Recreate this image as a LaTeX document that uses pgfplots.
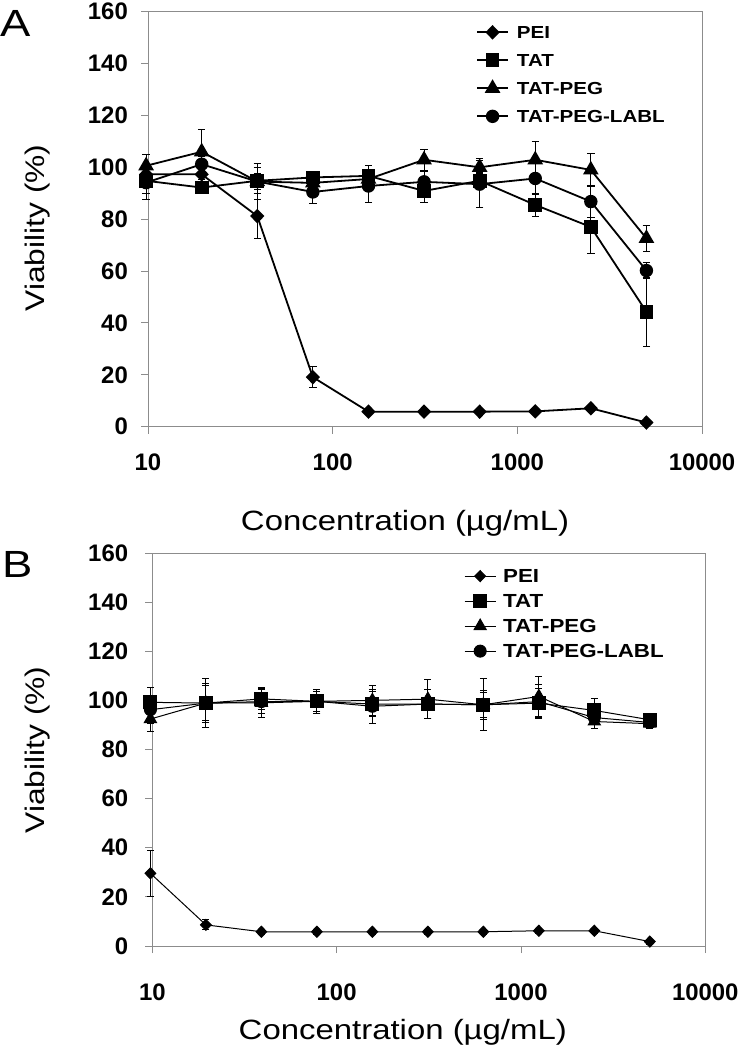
\documentclass[border=0pt]{standalone}
\usepackage{fontspec}
\setmainfont{Liberation Sans}
\usepackage{graphicx}
\usepackage{pgfplots}
\pgfplotsset{compat=1.18}
\usepackage{pgfplotstable}

\pgfplotstableread{
x pei peie tat tate peg pege labl lable
9.766 97.3 3 94.8 5 100.6 4.5 94.1 6.5
19.53 97.3 2 92.2 2 106.0 8.5 101.2 3
39.06 81.2 8.7 94.8 5 94.5 3 94.5 7
78.13 19.1 4 96.1 2 94.0 2 90.5 4.5
156.25 5.8 1 96.7 4 95.5 3 92.8 6.5
312.5 5.8 1 90.9 4.5 102.9 4 94.4 4
625 5.8 1 94.8 3 100.0 3.5 93.5 9
1250 5.9 1 85.5 4.3 102.9 7 95.7 6
2500 7.1 1 77.0 10.3 99.0 6.5 86.8 6
5000 1.6 1 44.3 13.3 72.6 5 60.2 3
}\dataA

\pgfplotstableread{
x pei peie tat tate peg pege labl lable
9.766 29.6 9.3 99.2 6 92.4 5 96.2 5.7
19.53 8.6 2 98.9 10 98.9 7 98.9 8
39.06 5.8 1 100.6 4.5 99.0 6 99.5 5
78.13 5.8 1 99.6 4 99.6 5 99.6 5
156.25 5.8 1 98.5 5 100.0 6 97.6 7
312.5 5.8 1 98.5 6 100.5 8 98.5 6
625 5.8 1 98.2 10.6 98.2 6 98.2 5
1250 6.2 1 98.9 6 101.6 8.2 99.5 7
2500 6.2 1 95.9 4.7 91.4 2.7 93.0 3
5000 1.8 1 92.1 2 90.5 2 91.0 2
}\dataB

\begin{document}
\begin{tikzpicture}
\useasboundingbox (0,0) rectangle (745bp,1050bp);
\node[anchor=base west, inner sep=0pt, font=\fontsize{38}{38}\selectfont] at (0bp,1013bp) {\scalebox{1.2}[1]{A}};
\node[anchor=base west, inner sep=0pt, font=\fontsize{38}{38}\selectfont] at (2bp,472bp) {\scalebox{1.2}[1]{B}};

% Panel A
\begin{axis}[
  scale only axis, clip=false,
  xmode=log, xmin=10, xmax=10000, ymin=0, ymax=160,
  at={(148bp,623.3bp)}, anchor=south west, width=554bp, height=415bp,
  xtick={10,100,1000,10000}, xticklabels={10,100,1000,10000},
  ytick={0,20,...,160},
  xminorticks=false, yminorticks=false,
  axis line style={draw=gray!90, line width=0.9pt},
  tick style={draw=gray!90, line width=0.9pt},
  tick align=outside, major tick length=7bp,
  xtick pos=bottom, ytick pos=left,
  /pgf/number format/assume math mode=true,
  ticklabel style={font=\fontsize{24}{24}\selectfont\bfseries, inner sep=0pt},
  xticklabel style={anchor=center, yshift=-28.5bp},
  yticklabel style={anchor=east, xshift=-13bp},
  legend cell align=left,
  legend image code/.code={\path[draw=none, fill=none] (0bp,-8bp) rectangle (31bp,8bp); \draw[mark repeat=2,mark phase=2,#1] plot coordinates {(0bp,0bp) (15.5bp,0bp) (31bp,0bp)};},
  xlabel={\scalebox{1.18}[1]{Concentration (µg/mL)}}, ylabel={\scalebox{1.18}[1]{Viability (\%)}},
  xlabel style={font=\fontsize{28}{28}\selectfont, at={(axis description cs:0.464,-0.249)}, anchor=base},
  ylabel style={font=\fontsize{27}{27}\selectfont, at={(axis description cs:-0.199,0.479)}, anchor=center},
  legend style={draw=none, fill=none, inner sep=0pt, nodes={inner sep=0pt, text height=12.5bp, text depth=0bp}, column sep=8bp, row sep=12bp,
    at={(axis description cs:0.592,0.970)}, anchor=north west, font=\fontsize{17.5}{17.5}\selectfont\bfseries},
]
\addplot[black, line width=1.8bp, mark=diamond*, mark size=6bp, mark options={fill=black, xscale=1.3},
  error bars/.cd, y dir=both, y explicit, error bar style={line width=1.1bp, black}, error mark options={rotate=90, mark size=3.7bp, line width=1.1bp, black, xscale=1}]
  table[x=x, y=pei, y error=peie] {\dataA};
\addlegendentry{\scalebox{1.18}[1]{PEI}}
\addplot[black, line width=1.8bp, mark=square*, mark size=6bp, mark options={fill=black},
  error bars/.cd, y dir=both, y explicit, error bar style={line width=1.1bp, black}, error mark options={rotate=90, mark size=3.7bp, line width=1.1bp, black}]
  table[x=x, y=tat, y error=tate] {\dataA};
\addlegendentry{\scalebox{1.18}[1]{TAT}}
\addplot[black, line width=1.8bp, mark=triangle*, mark size=7.3bp, mark options={fill=black},
  error bars/.cd, y dir=both, y explicit, error bar style={line width=1.1bp, black}, error mark options={rotate=90, mark size=3.7bp, line width=1.1bp, black}]
  table[x=x, y=peg, y error=pege] {\dataA};
\addlegendentry{\scalebox{1.18}[1]{TAT-PEG}}
\addplot[black, line width=1.8bp, mark=*, mark size=5.8bp, mark options={fill=black},
  error bars/.cd, y dir=both, y explicit, error bar style={line width=1.1bp, black}, error mark options={rotate=90, mark size=3.7bp, line width=1.1bp, black}]
  table[x=x, y=labl, y error=lable] {\dataA};
\addlegendentry{\scalebox{1.18}[1]{TAT-PEG-LABL}}
\end{axis}

% Panel B
\begin{axis}[
  scale only axis, clip=false,
  xmode=log, xmin=10, xmax=10000, ymin=0, ymax=160,
  at={(152.3bp,104bp)}, anchor=south west, width=553bp, height=393bp,
  xtick={10,100,1000,10000}, xticklabels={10,100,1000,10000},
  ytick={0,20,...,160},
  xminorticks=false, yminorticks=false,
  axis line style={draw=gray!90, line width=0.9pt},
  tick style={draw=gray!90, line width=0.9pt},
  tick align=outside, major tick length=7bp,
  xtick pos=bottom, ytick pos=left,
  /pgf/number format/assume math mode=true,
  ticklabel style={font=\fontsize{24}{24}\selectfont\bfseries, inner sep=0pt},
  xticklabel style={anchor=center, yshift=-39bp},
  yticklabel style={anchor=east, xshift=-17bp},
  legend cell align=left,
  legend image code/.code={\path[draw=none, fill=none] (0bp,-8bp) rectangle (31bp,8bp); \draw[mark repeat=2,mark phase=2,#1] plot coordinates {(0bp,0bp) (15.5bp,0bp) (31bp,0bp)};},
  xlabel={\scalebox{1.18}[1]{Concentration (µg/mL)}}, ylabel={\scalebox{1.18}[1]{Viability (\%)}},
  xlabel style={font=\fontsize{28}{28}\selectfont, at={(axis description cs:0.453,-0.239)}, anchor=base},
  ylabel style={font=\fontsize{27}{27}\selectfont, at={(axis description cs:-0.207,0.499)}, anchor=center},
  legend style={draw=none, fill=none, inner sep=0pt, nodes={inner sep=0pt, text height=13.5bp, text depth=0bp}, column sep=7bp, row sep=9bp,
    at={(axis description cs:0.5636,0.962)}, anchor=north west, font=\fontsize{19}{19}\selectfont\bfseries},
]
\addplot[black, line width=1bp, mark=diamond*, mark size=5.5bp, mark options={fill=black, xscale=1.3},
  error bars/.cd, y dir=both, y explicit, error bar style={line width=1bp, black}, error mark options={rotate=90, mark size=3.4bp, line width=1bp, black}]
  table[x=x, y=pei, y error=peie] {\dataB};
\addlegendentry{\scalebox{1.18}[1]{PEI}}
\addplot[black, line width=1bp, mark=square*, mark size=6.5bp, mark options={fill=black},
  error bars/.cd, y dir=both, y explicit, error bar style={line width=1bp, black}, error mark options={rotate=90, mark size=3.4bp, line width=1bp, black}]
  table[x=x, y=tat, y error=tate] {\dataB};
\addlegendentry{\scalebox{1.18}[1]{TAT}}
\addplot[black, line width=1bp, mark=triangle*, mark size=7bp, mark options={fill=black},
  error bars/.cd, y dir=both, y explicit, error bar style={line width=1bp, black}, error mark options={rotate=90, mark size=3.4bp, line width=1bp, black}]
  table[x=x, y=peg, y error=pege] {\dataB};
\addlegendentry{\scalebox{1.18}[1]{TAT-PEG}}
\addplot[black, line width=1bp, mark=*, mark size=6bp, mark options={fill=black},
  error bars/.cd, y dir=both, y explicit, error bar style={line width=1bp, black}, error mark options={rotate=90, mark size=3.4bp, line width=1bp, black}]
  table[x=x, y=labl, y error=lable] {\dataB};
\addlegendentry{\scalebox{1.18}[1]{TAT-PEG-LABL}}
\end{axis}
\end{tikzpicture}
\end{document}
